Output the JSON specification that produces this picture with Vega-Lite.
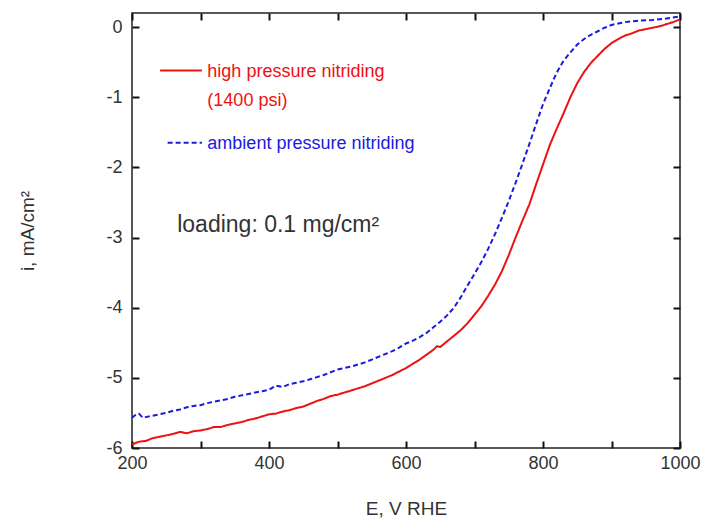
{
  "$schema": "https://vega.github.io/schema/vega-lite/v6.json",
  "width": 548,
  "height": 435,
  "autosize": "none",
  "padding": {"left": 132, "top": 13, "right": 28, "bottom": 74},
  "background": "white",
  "config": {
    "view": {"stroke": "#222", "strokeWidth": 1.5},
    "font": "Liberation Sans"
  },
  "datasets": {
    "curves": [
      {"E": 200, "i": -5.95, "s": "high"}, {"E": 210, "i": -5.91, "s": "high"}, {"E": 220, "i": -5.9, "s": "high"}, {"E": 230, "i": -5.86, "s": "high"}, {"E": 240, "i": -5.84, "s": "high"}, {"E": 250, "i": -5.82, "s": "high"}, {"E": 260, "i": -5.8, "s": "high"}, {"E": 270, "i": -5.77, "s": "high"}, {"E": 280, "i": -5.79, "s": "high"}, {"E": 290, "i": -5.76, "s": "high"}, {"E": 300, "i": -5.75, "s": "high"}, {"E": 310, "i": -5.73, "s": "high"}, {"E": 320, "i": -5.7, "s": "high"}, {"E": 330, "i": -5.7, "s": "high"}, {"E": 340, "i": -5.67, "s": "high"}, {"E": 350, "i": -5.65, "s": "high"}, {"E": 360, "i": -5.63, "s": "high"}, {"E": 370, "i": -5.6, "s": "high"}, {"E": 380, "i": -5.58, "s": "high"}, {"E": 390, "i": -5.55, "s": "high"}, {"E": 400, "i": -5.52, "s": "high"}, {"E": 410, "i": -5.51, "s": "high"}, {"E": 420, "i": -5.48, "s": "high"}, {"E": 430, "i": -5.46, "s": "high"}, {"E": 440, "i": -5.43, "s": "high"}, {"E": 450, "i": -5.41, "s": "high"}, {"E": 460, "i": -5.37, "s": "high"}, {"E": 470, "i": -5.33, "s": "high"}, {"E": 480, "i": -5.3, "s": "high"}, {"E": 490, "i": -5.26, "s": "high"}, {"E": 500, "i": -5.24, "s": "high"}, {"E": 510, "i": -5.21, "s": "high"}, {"E": 520, "i": -5.18, "s": "high"}, {"E": 530, "i": -5.15, "s": "high"}, {"E": 540, "i": -5.12, "s": "high"}, {"E": 550, "i": -5.08, "s": "high"}, {"E": 560, "i": -5.04, "s": "high"}, {"E": 570, "i": -5.0, "s": "high"}, {"E": 580, "i": -4.96, "s": "high"}, {"E": 590, "i": -4.91, "s": "high"}, {"E": 600, "i": -4.86, "s": "high"}, {"E": 610, "i": -4.8, "s": "high"}, {"E": 620, "i": -4.74, "s": "high"}, {"E": 630, "i": -4.67, "s": "high"}, {"E": 640, "i": -4.6, "s": "high"}, {"E": 645, "i": -4.55, "s": "high"}, {"E": 650, "i": -4.56, "s": "high"}, {"E": 660, "i": -4.48, "s": "high"}, {"E": 670, "i": -4.4, "s": "high"}, {"E": 680, "i": -4.32, "s": "high"}, {"E": 690, "i": -4.22, "s": "high"}, {"E": 700, "i": -4.1, "s": "high"}, {"E": 710, "i": -3.98, "s": "high"}, {"E": 720, "i": -3.83, "s": "high"}, {"E": 730, "i": -3.67, "s": "high"}, {"E": 740, "i": -3.48, "s": "high"}, {"E": 750, "i": -3.25, "s": "high"}, {"E": 760, "i": -3.0, "s": "high"}, {"E": 770, "i": -2.76, "s": "high"}, {"E": 780, "i": -2.53, "s": "high"}, {"E": 790, "i": -2.24, "s": "high"}, {"E": 800, "i": -1.96, "s": "high"}, {"E": 810, "i": -1.68, "s": "high"}, {"E": 820, "i": -1.45, "s": "high"}, {"E": 830, "i": -1.23, "s": "high"}, {"E": 840, "i": -1.0, "s": "high"}, {"E": 850, "i": -0.8, "s": "high"}, {"E": 860, "i": -0.64, "s": "high"}, {"E": 870, "i": -0.51, "s": "high"}, {"E": 880, "i": -0.41, "s": "high"}, {"E": 890, "i": -0.31, "s": "high"}, {"E": 900, "i": -0.23, "s": "high"}, {"E": 910, "i": -0.17, "s": "high"}, {"E": 920, "i": -0.12, "s": "high"}, {"E": 930, "i": -0.09, "s": "high"}, {"E": 940, "i": -0.05, "s": "high"}, {"E": 950, "i": -0.03, "s": "high"}, {"E": 960, "i": -0.01, "s": "high"}, {"E": 970, "i": 0.01, "s": "high"}, {"E": 980, "i": 0.04, "s": "high"}, {"E": 990, "i": 0.07, "s": "high"}, {"E": 1000, "i": 0.11, "s": "high"},
      {"E": 200, "i": -5.57, "s": "ambient"}, {"E": 205, "i": -5.53, "s": "ambient"}, {"E": 210, "i": -5.51, "s": "ambient"}, {"E": 216, "i": -5.57, "s": "ambient"}, {"E": 220, "i": -5.56, "s": "ambient"}, {"E": 230, "i": -5.54, "s": "ambient"}, {"E": 240, "i": -5.52, "s": "ambient"}, {"E": 250, "i": -5.5, "s": "ambient"}, {"E": 260, "i": -5.47, "s": "ambient"}, {"E": 270, "i": -5.45, "s": "ambient"}, {"E": 280, "i": -5.42, "s": "ambient"}, {"E": 290, "i": -5.4, "s": "ambient"}, {"E": 300, "i": -5.39, "s": "ambient"}, {"E": 310, "i": -5.36, "s": "ambient"}, {"E": 320, "i": -5.34, "s": "ambient"}, {"E": 330, "i": -5.32, "s": "ambient"}, {"E": 340, "i": -5.3, "s": "ambient"}, {"E": 350, "i": -5.27, "s": "ambient"}, {"E": 360, "i": -5.25, "s": "ambient"}, {"E": 370, "i": -5.23, "s": "ambient"}, {"E": 380, "i": -5.21, "s": "ambient"}, {"E": 390, "i": -5.19, "s": "ambient"}, {"E": 400, "i": -5.17, "s": "ambient"}, {"E": 410, "i": -5.11, "s": "ambient"}, {"E": 420, "i": -5.13, "s": "ambient"}, {"E": 430, "i": -5.09, "s": "ambient"}, {"E": 440, "i": -5.07, "s": "ambient"}, {"E": 450, "i": -5.05, "s": "ambient"}, {"E": 460, "i": -5.02, "s": "ambient"}, {"E": 470, "i": -4.99, "s": "ambient"}, {"E": 480, "i": -4.96, "s": "ambient"}, {"E": 490, "i": -4.92, "s": "ambient"}, {"E": 500, "i": -4.88, "s": "ambient"}, {"E": 510, "i": -4.86, "s": "ambient"}, {"E": 520, "i": -4.84, "s": "ambient"}, {"E": 530, "i": -4.81, "s": "ambient"}, {"E": 540, "i": -4.78, "s": "ambient"}, {"E": 550, "i": -4.74, "s": "ambient"}, {"E": 560, "i": -4.7, "s": "ambient"}, {"E": 570, "i": -4.66, "s": "ambient"}, {"E": 580, "i": -4.62, "s": "ambient"}, {"E": 590, "i": -4.57, "s": "ambient"}, {"E": 600, "i": -4.51, "s": "ambient"}, {"E": 610, "i": -4.47, "s": "ambient"}, {"E": 620, "i": -4.42, "s": "ambient"}, {"E": 630, "i": -4.36, "s": "ambient"}, {"E": 640, "i": -4.28, "s": "ambient"}, {"E": 650, "i": -4.2, "s": "ambient"}, {"E": 660, "i": -4.11, "s": "ambient"}, {"E": 670, "i": -4.0, "s": "ambient"}, {"E": 680, "i": -3.85, "s": "ambient"}, {"E": 690, "i": -3.68, "s": "ambient"}, {"E": 700, "i": -3.52, "s": "ambient"}, {"E": 710, "i": -3.35, "s": "ambient"}, {"E": 720, "i": -3.16, "s": "ambient"}, {"E": 730, "i": -2.95, "s": "ambient"}, {"E": 740, "i": -2.72, "s": "ambient"}, {"E": 750, "i": -2.48, "s": "ambient"}, {"E": 760, "i": -2.22, "s": "ambient"}, {"E": 770, "i": -1.95, "s": "ambient"}, {"E": 780, "i": -1.67, "s": "ambient"}, {"E": 790, "i": -1.38, "s": "ambient"}, {"E": 800, "i": -1.1, "s": "ambient"}, {"E": 810, "i": -0.87, "s": "ambient"}, {"E": 820, "i": -0.65, "s": "ambient"}, {"E": 830, "i": -0.48, "s": "ambient"}, {"E": 840, "i": -0.36, "s": "ambient"}, {"E": 850, "i": -0.25, "s": "ambient"}, {"E": 860, "i": -0.17, "s": "ambient"}, {"E": 870, "i": -0.11, "s": "ambient"}, {"E": 880, "i": -0.06, "s": "ambient"}, {"E": 890, "i": -0.01, "s": "ambient"}, {"E": 900, "i": 0.03, "s": "ambient"}, {"E": 910, "i": 0.05, "s": "ambient"}, {"E": 920, "i": 0.07, "s": "ambient"}, {"E": 940, "i": 0.09, "s": "ambient"}, {"E": 960, "i": 0.1, "s": "ambient"}, {"E": 980, "i": 0.12, "s": "ambient"}, {"E": 1000, "i": 0.15, "s": "ambient"}
    ],
    "keys": [
      {"x": 241, "x2": 302, "y": -0.62, "s": "high"},
      {"x": 252, "x2": 302, "y": -1.65, "s": "ambient"}
    ],
    "labels": [
      {"x": 310, "y": -0.64, "t": "high pressure nitriding", "c": "high"},
      {"x": 310, "y": -1.05, "t": "(1400 psi)", "c": "high"},
      {"x": 310, "y": -1.67, "t": "ambient pressure nitriding", "c": "ambient"}
    ],
    "note": [
      {"x": 266, "y": -2.82, "t": "loading: 0.1 mg/cm²"}
    ]
  },
  "resolve": {"axis": {"x": "independent", "y": "independent"}},
  "layer": [
    {
      "data": {"name": "curves"},
      "mark": {"type": "line", "strokeWidth": 2, "clip": true},
      "encoding": {
        "x": {"field": "E", "type": "quantitative",
          "scale": {"domain": [200, 1000], "nice": false, "zero": false},
          "axis": {"orient": "bottom", "title": "E,  V RHE", "values": [200, 300, 400, 500, 600, 700, 800, 900, 1000],
            "labelExpr": "datum.value % 200 == 0 ? '' + datum.value : ''", "labelFlush": false,
            "grid": false, "domain": false, "tickSize": -7, "tickWidth": 2, "tickColor": "#111",
            "labelPadding": 13, "labelFontSize": 18, "labelColor": "#333", "labelFont": "Liberation Sans",
            "titleFontSize": 19, "titleFontWeight": "normal", "titleColor": "#333", "titleFont": "Liberation Sans", "titlePadding": 27}},
        "y": {"field": "i", "type": "quantitative",
          "scale": {"domain": [-6, 0.2], "nice": false, "zero": false},
          "axis": {"orient": "left", "title": "i,  mA/cm²", "values": [-6, -5, -4, -3, -2, -1, 0],
            "labelExpr": "'' + datum.value", "labelFlush": false,
            "grid": false, "domain": false, "tickSize": -7, "tickWidth": 2, "tickColor": "#111",
            "labelPadding": 17, "labelFontSize": 18, "labelColor": "#333", "labelFont": "Liberation Sans",
            "titleFontSize": 19, "titleFontWeight": "normal", "titleColor": "#333", "titleFont": "Liberation Sans", "titlePadding": 68}},
        "color": {"field": "s", "type": "nominal", "scale": {"domain": ["high", "ambient"], "range": ["#ee1111", "#1a1ae0"]}, "legend": null},
        "strokeDash": {"field": "s", "type": "nominal", "scale": {"domain": ["high", "ambient"], "range": [[1, 0], [5, 3]]}, "legend": null}
      }
    },
    {
      "data": {"name": "keys"},
      "mark": {"type": "rule", "strokeWidth": 2},
      "encoding": {
        "x": {"field": "x", "type": "quantitative",
          "axis": {"orient": "top", "title": null, "values": [200, 300, 400, 500, 600, 700, 800, 900, 1000], "labels": false, "grid": false, "domain": false, "tickSize": -7, "tickWidth": 2, "tickColor": "#111"}},
        "x2": {"field": "x2"},
        "y": {"field": "y", "type": "quantitative",
          "axis": {"orient": "right", "title": null, "values": [-6, -5, -4, -3, -2, -1, 0], "labels": false, "grid": false, "domain": false, "tickSize": -7, "tickWidth": 2, "tickColor": "#111"}},
        "color": {"field": "s", "type": "nominal", "legend": null},
        "strokeDash": {"field": "s", "type": "nominal", "legend": null}
      }
    },
    {
      "data": {"name": "labels"},
      "mark": {"type": "text", "align": "left", "baseline": "middle", "fontSize": 18, "font": "Liberation Sans"},
      "encoding": {
        "x": {"field": "x", "type": "quantitative", "axis": null},
        "y": {"field": "y", "type": "quantitative", "axis": null},
        "text": {"field": "t"},
        "color": {"field": "c", "type": "nominal", "legend": null}
      }
    },
    {
      "data": {"name": "note"},
      "mark": {"type": "text", "align": "left", "baseline": "middle", "fontSize": 23, "font": "Liberation Sans", "color": "#333"},
      "encoding": {
        "x": {"field": "x", "type": "quantitative", "axis": null},
        "y": {"field": "y", "type": "quantitative", "axis": null},
        "text": {"field": "t"}
      }
    }
  ]
}
